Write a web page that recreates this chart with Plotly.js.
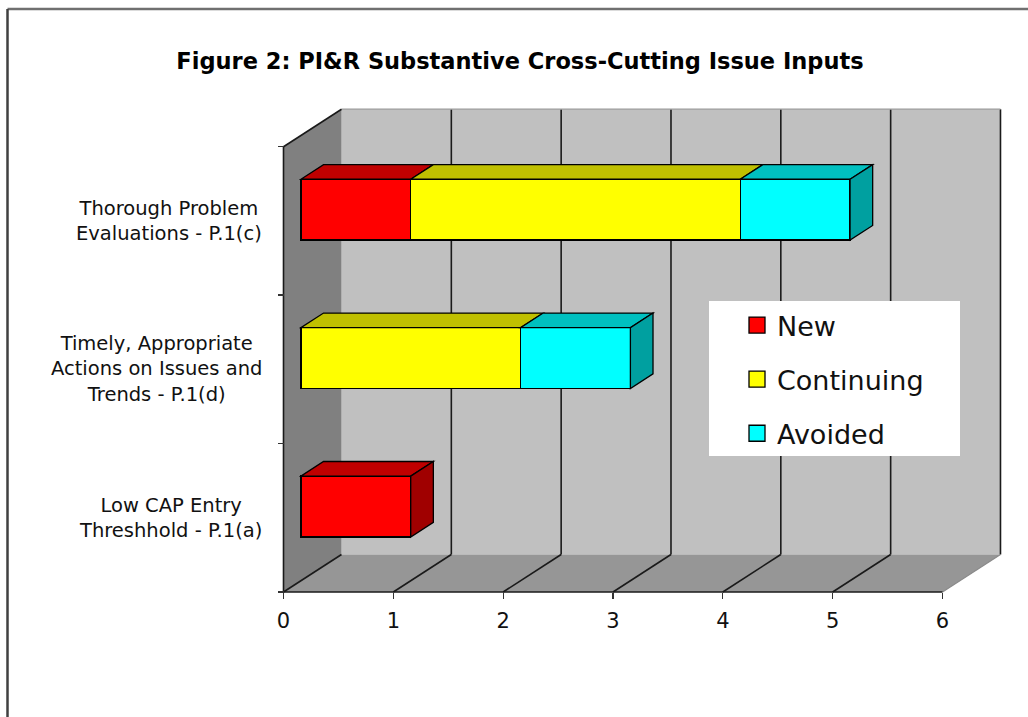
<!DOCTYPE html>
<html>
<head>
<meta charset="utf-8">
<script src="https://cdn.plot.ly/plotly-3.0.1.min.js"></script>
<style>html,body{margin:0;padding:0;background:#fff;}#chart{width:1028px;height:717px;}</style>
</head>
<body>
<div id="chart"></div>
<script>
// ---------------- data ----------------
const categories = [
  "Low CAP Entry<br>Threshhold - P.1(a)",
  "Timely, Appropriate<br>Actions on Issues and<br>Trends - P.1(d)",
  "Thorough Problem<br>Evaluations - P.1(c)"
];
const seriesNames = ["New", "Continuing", "Avoided"];
const newVals      = [1, 0, 1];
const continuingVals = [0, 2, 3];
const avoidedVals  = [0, 1, 1];
const xTickVals = [0, 1, 2, 3, 4, 5, 6];
const titleText = "Figure 2: PI&amp;R Substantive Cross-Cutting Issue Inputs";

// ---------------- styles ----------------
const frontColors = ["#FF0000", "#FFFF00", "#00FFFF"];
const topColors   = ["#C00000", "#C0C000", "#00C0C0"];
const sideColors  = ["#A00000", "#A0A000", "#00A0A0"];
const FONT = "DejaVu Sans";

// ---------------- geometry (pixels) ----------------
const W = 1028, H = 717;
const ML = 272, MR = 16, MT = 100, MB = 120;
const PW = W - ML - MR, PH = H - MT - MB;
const X0PX = 283.5, UX = 109.83;   // pixel of x=0, px per x unit
const Y0PX = 592, UY = 148.43;     // pixel of y=0 (floor front), px per category
const DEPTH_X_PX = 58, DEPTH_Y_PX = 37.5;
const DX = DEPTH_X_PX / UX, DY = DEPTH_Y_PX / UY;
const XL = (ML - X0PX) / UX, XR = (ML + PW - X0PX) / UX;
const YB = -(MT + PH - Y0PX) / UY, YT = (Y0PX - MT) / UY;
const F0 = 0.30, BD = 0.39, BAR_W = 0.41;
const NCAT = categories.length, XMAXV = xTickVals[xTickVals.length - 1];
const px2paperX = p => (p - ML) / PW;
const px2paperY = p => (MT + PH - p) / PH;

const series = [newVals, continuingVals, avoidedVals];
const catPos = categories.map((c, i) => i + 0.5);

// ---------------- traces ----------------
const traces = [];
series.forEach((vals, s) => {
  traces.push({
    type: "bar", orientation: "h", x: vals, y: catPos, width: BAR_W,
    xaxis: "x2", yaxis: "y2", name: seriesNames[s], showlegend: false,
    marker: {color: frontColors[s], line: {color: "#000", width: 1.3}},
    hoverinfo: "skip"
  });
});
series.forEach((vals, s) => {
  traces.push({
    type: "scatter", mode: "markers", x: [null], y: [null],
    name: seriesNames[s], legendgroup: seriesNames[s], showlegend: true,
    marker: {symbol: "square", size: 16, color: frontColors[s], line: {color: "#000", width: 1.3}}
  });
});

// ---------------- shapes ----------------
const shapes = [];
const L = (x0, y0, x1, y1, color, width) => ({type: "line", xref: "x", yref: "y", x0, y0, x1, y1, layer: "below", line: {color, width}});
// back wall
shapes.push({type: "rect", xref: "x", yref: "y", x0: DX, x1: XMAXV + DX, y0: DY, y1: NCAT + DY, fillcolor: "#C0C0C0", line: {width: 0}, layer: "below"});
// left wall
shapes.push({type: "path", xref: "x", yref: "y", path: `M 0,0 L 0,${NCAT} L ${DX},${NCAT + DY} L ${DX},${DY} Z`, fillcolor: "#808080", line: {width: 0}, layer: "below"});
// floor
shapes.push({type: "path", xref: "x", yref: "y", path: `M 0,0 L ${XMAXV},0 L ${XMAXV + DX},${DY} L ${DX},${DY} Z`, fillcolor: "#969696", line: {width: 0}, layer: "below"});
// gridlines
xTickVals.forEach(v => {
  if (v > 0) shapes.push(L(v + DX, DY, v + DX, NCAT + DY, "#1a1a1a", 1.6));
  if (v < XMAXV) shapes.push(L(v, 0, v + DX, DY, "#1a1a1a", 1.6));
});
// edges
shapes.push(L(DX, NCAT + DY, XMAXV + DX, NCAT + DY, "#9a9a9a", 1.2));
shapes.push(L(XMAXV, 0, XMAXV + DX, DY, "#8a8a8a", 1.2));
shapes.push(L(0, 0, 0, NCAT, "#1a1a1a", 1.6));
shapes.push(L(0, NCAT, DX, NCAT + DY, "#1a1a1a", 1.6));
shapes.push(L(0, 0, XMAXV, 0, "#1a1a1a", 1.6));

// bar top and side faces
const bx = BD * DX, by = BD * DY;
catPos.forEach((yc, i) => {
  let cum = 0, lastS = -1;
  series.forEach((vals, s) => { if (vals[i] > 0) lastS = s; });
  const yt = yc + BAR_W / 2, yb = yc - BAR_W / 2;
  series.forEach((vals, s) => {
    const v = vals[i];
    if (!(v > 0)) return;
    const xs = cum, xe = cum + v;
    shapes.push({type: "path", xref: "x2", yref: "y2", layer: "above",
      path: `M ${xs},${yt} L ${xe},${yt} L ${xe + bx},${yt + by} L ${xs + bx},${yt + by} Z`,
      fillcolor: topColors[s], line: {color: "#000", width: 1.3}});
    if (s === lastS) {
      shapes.push({type: "path", xref: "x2", yref: "y2", layer: "above",
        path: `M ${xe},${yb} L ${xe},${yt} L ${xe + bx},${yt + by} L ${xe + bx},${yb + by} Z`,
        fillcolor: sideColors[s], line: {color: "#000", width: 1.3}});
    }
    cum = xe;
  });
});

// legend box
shapes.push({type: "rect", xref: "paper", yref: "paper", x0: px2paperX(709), x1: px2paperX(960), y0: px2paperY(456), y1: px2paperY(301), fillcolor: "#fff", line: {width: 0}, layer: "above"});
// chart border (top, left)
shapes.push({type: "line", xref: "paper", yref: "paper", x0: px2paperX(7.5), x1: px2paperX(1030), y0: px2paperY(9), y1: px2paperY(9), line: {color: "#707070", width: 2.5}, layer: "above"});
shapes.push({type: "line", xref: "paper", yref: "paper", x0: px2paperX(7.5), x1: px2paperX(7.5), y0: px2paperY(9), y1: px2paperY(720), line: {color: "#404040", width: 2.5}, layer: "above"});

// category labels
const annotations = categories.map((c, i) => ({
  xref: "x", yref: "y", x: 0, y: catPos[i], xanchor: "right", yanchor: "middle",
  xshift: -20, align: "center", showarrow: false, text: c,
  font: {family: FONT, size: 19.5, color: "#111"}
}));

const layout = {
  width: W, height: H,
  margin: {l: ML, r: MR, t: MT, b: MB, pad: 0},
  paper_bgcolor: "#fff", plot_bgcolor: "rgba(0,0,0,0)",
  barmode: "stack", bargap: 0,
  title: {text: "<b>" + titleText + "</b>", font: {family: FONT, size: 22.5, color: "#000"},
    xref: "container", x: 520 / W, xanchor: "center", yref: "container", y: 1 - 61 / H, yanchor: "middle"},
  xaxis: {range: [XL, XR], anchor: "free", position: px2paperY(Y0PX), tickmode: "array",
    tickvals: xTickVals, ticktext: xTickVals.map(String), ticks: "outside", ticklen: 6, tickwidth: 1.3,
    tickcolor: "#333", showgrid: false, zeroline: false, showline: false, fixedrange: true,
    ticklabelstandoff: 4,
    tickfont: {family: FONT, size: 21, color: "#111"}},
  yaxis: {range: [YB, YT], anchor: "free", position: px2paperX(X0PX), tickmode: "array",
    tickvals: categories.map((c, i) => i).concat([NCAT]), ticks: "outside", ticklen: 6, tickwidth: 1.3,
    tickcolor: "#333", showticklabels: false, showgrid: false, zeroline: false, showline: false, fixedrange: true},
  xaxis2: {overlaying: "x", anchor: "y2", range: [XL - F0 * DX, XR - F0 * DX], visible: false, fixedrange: true},
  yaxis2: {overlaying: "y", anchor: "x2", range: [YB - F0 * DY, YT - F0 * DY], visible: false, fixedrange: true},
  showlegend: true,
  legend: {x: px2paperX(737), xanchor: "left", y: px2paperY(301), yanchor: "top",
    bgcolor: "rgba(0,0,0,0)", borderwidth: 0, tracegroupgap: 16, traceorder: "grouped",
    font: {family: FONT, size: 27, color: "#111"}},
  shapes: shapes,
  annotations: annotations
};

Plotly.newPlot("chart", traces, layout, {displayModeBar: false, staticPlot: true});
</script>
</body>
</html>
